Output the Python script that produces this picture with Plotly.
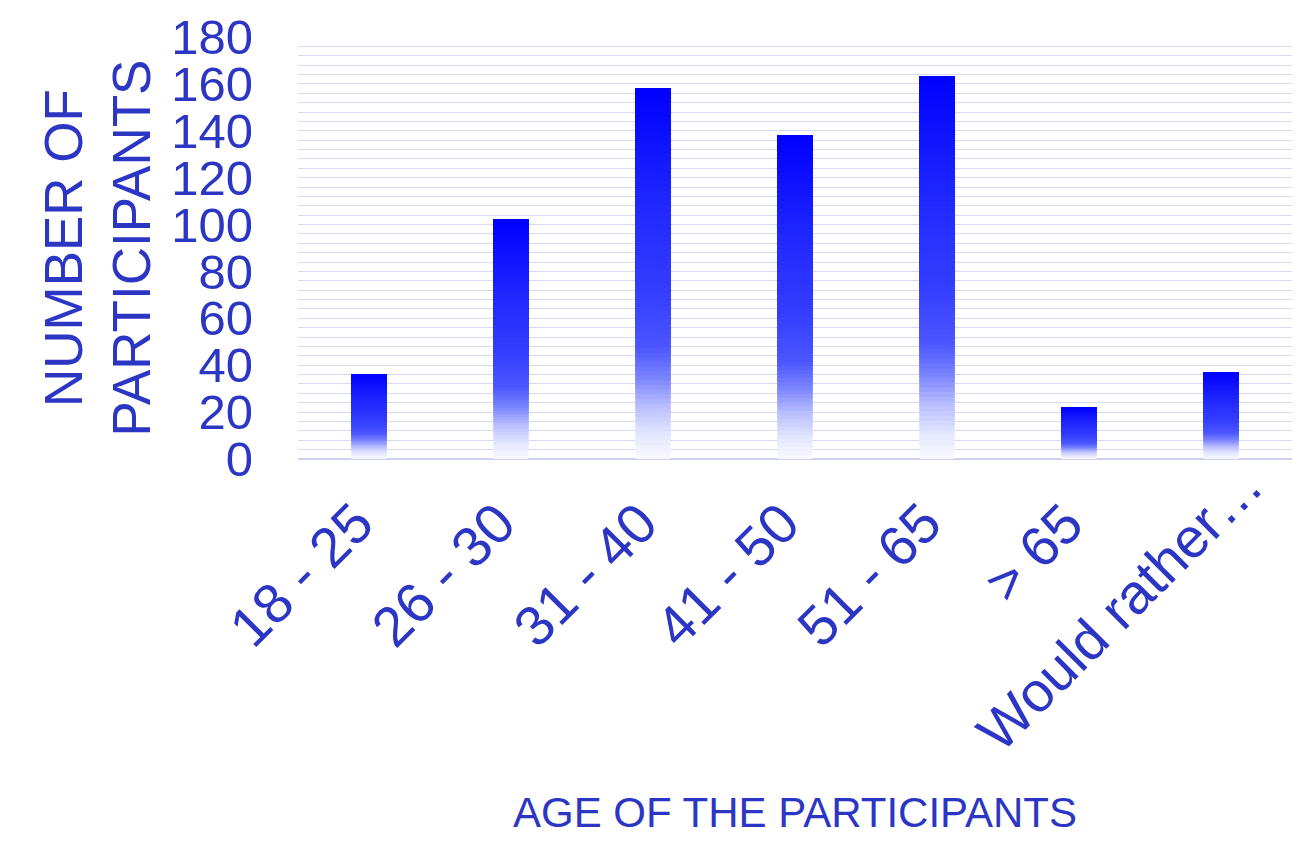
import math
import plotly.graph_objects as go

# Survey data: participants per age group
age_groups = ["18 - 25", "26 - 30", "31 - 40", "41 - 50", "51 - 65", "> 65", "Would rather…"]
participants = [36, 102, 158, 138, 163, 22, 37]

y_ticks = [0, 20, 40, 60, 80, 100, 120, 140, 160, 180]

TEXT_COLOR = "#2c36c4"
GRID_COLOR = "#d6d9f5"
FONT = "Liberation Sans, Arial, sans-serif"

# vertical gradient of each bar: fraction of bar height (from base) -> rgb
gradient_stops = [
    (0.00, (248, 249, 255)),
    (0.06, (230, 233, 255)),
    (0.14, (186, 192, 255)),
    (0.22, (122, 131, 255)),
    (0.30, (76, 86, 255)),
    (0.45, (52, 62, 255)),
    (0.70, (30, 38, 255)),
    (1.00, (0, 0, 255)),
]


def gradient_color(f):
    for (f0, c0), (f1, c1) in zip(gradient_stops[:-1], gradient_stops[1:]):
        if f0 <= f <= f1:
            t = (f - f0) / (f1 - f0)
            r, g, b = (round(a + (b_ - a) * t) for a, b_ in zip(c0, c1))
            return f"rgb({r},{g},{b})"
    return "rgb(0,0,255)"


N_SLICES = 80
fig = go.Figure()
# overlaid bars: each layer starts a bit higher and carries a darker shade
for i in range(N_SLICES):
    f = i / N_SLICES
    fig.add_trace(go.Bar(
        x=age_groups,
        y=[v * (1 - f) for v in participants],
        base=[v * f for v in participants],
        marker=dict(color=gradient_color(f + 0.5 / N_SLICES), line=dict(width=0)),
        hoverinfo="skip",
        showlegend=False,
    ))

# rotated category labels, anchored at their upper-right end below each bar;
# the long last label sits a little further along its own direction
LABEL_ADVANCE = {"Would rather…": 54}
label_annotations = []
for idx, name in enumerate(age_groups):
    adv = LABEL_ADVANCE.get(name, 0) / math.sqrt(2)
    label_annotations.append(dict(
        text=name,
        x=idx, xref="x",
        y=0, yref="y",
        xanchor="right", yanchor="top",
        xshift=19 + adv, yshift=-29 + adv,
        textangle=-45,
        showarrow=False,
        font=dict(size=56, color=TEXT_COLOR, family=FONT),
    ))

fig.update_layout(
    width=1305,
    height=850,
    barmode="overlay",
    bargap=0.755,
    plot_bgcolor="white",
    paper_bgcolor="white",
    margin=dict(l=298, r=13, t=37, b=391, autoexpand=False),
    font=dict(family=FONT, color=TEXT_COLOR),
    xaxis=dict(
        type="category",
        categoryorder="array",
        categoryarray=age_groups,
        range=[-0.5, len(age_groups) - 0.5],
        showticklabels=False,
        showgrid=False,
        showline=False,
        ticks="",
        automargin=False,
    ),
    yaxis=dict(
        range=[0, 180],
        tickvals=y_ticks,
        tickfont=dict(size=49, color=TEXT_COLOR),
        showgrid=True,
        gridcolor=GRID_COLOR,
        gridwidth=1,
        minor=dict(dtick=4, showgrid=True, gridcolor=GRID_COLOR, gridwidth=1),
        zeroline=True,
        zerolinecolor="#cdd0f3",
        zerolinewidth=2,
        ticks="",
        ticklabelstandoff=44,
        automargin=False,
    ),
    annotations=label_annotations + [
        dict(
            text="NUMBER OF<br>PARTICIPANTS",
            xref="paper", yref="paper",
            x=-0.2017, y=0.5,
            xanchor="center", yanchor="middle",
            textangle=-90,
            showarrow=False,
            font=dict(size=53, color=TEXT_COLOR, family=FONT),
        ),
        dict(
            text="AGE OF THE PARTICIPANTS",
            xref="paper", yref="paper",
            x=0.5, y=-0.8365,
            xanchor="center", yanchor="middle",
            showarrow=False,
            font=dict(size=42, color=TEXT_COLOR, family=FONT),
        ),
    ],
)

fig.write_html("out.html")
